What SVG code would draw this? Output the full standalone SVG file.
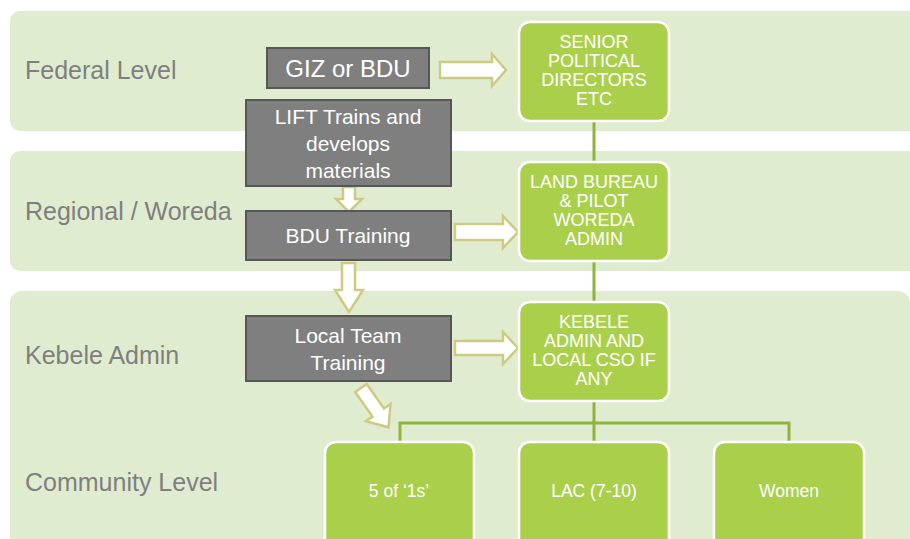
<svg xmlns="http://www.w3.org/2000/svg" width="910" height="539" viewBox="0 0 910 539">
<style>
.band{fill:#e0ecd0}
.lvl{font-family:"Liberation Sans",Arial,sans-serif;font-size:25px;fill:#7f7f7f}
.gbox{fill:#7f7f7f;stroke:#575757;stroke-width:2}
.gt{font-family:"Liberation Sans",Arial,sans-serif;font-size:21px;fill:#ffffff;text-anchor:middle}
.nbox{fill:#aad04b;stroke:#ffffff;stroke-width:2.5}
.nt{font-family:"Liberation Sans",Arial,sans-serif;font-size:18px;fill:#ffffff;text-anchor:middle}
.bt{font-family:"Liberation Sans",Arial,sans-serif;font-size:17.5px;fill:#ffffff;text-anchor:middle}
.arr{fill:#ffffff;stroke:#cfca82;stroke-width:2.5;stroke-linejoin:miter}
.con{stroke:#8db43c;stroke-width:3;fill:none}
</style>
<rect width="910" height="539" fill="#ffffff"/>
<g id="bands">
<rect class="band" x="10" y="11" width="940" height="120" rx="10"/>
<rect class="band" x="10" y="151" width="940" height="120" rx="10"/>
<rect class="band" x="10" y="291" width="900" height="270" rx="12"/>
<text class="lvl" x="25" y="79">Federal Level</text>
<text class="lvl" x="25" y="220">Regional / Woreda</text>
<text class="lvl" x="25" y="364">Kebele Admin</text>
<text class="lvl" x="25" y="491">Community Level</text>
</g>
<g id="connectors">
<line class="con" x1="594" y1="121" x2="594" y2="162"/>
<line class="con" x1="594" y1="261" x2="594" y2="302"/>
<line class="con" x1="594" y1="401" x2="594" y2="442"/>
<polyline class="con" points="400,442 400,423 789,423 789,442"/>
<polygon class="arr" points="440,62 492,62 492,54 506,70 492,86 492,78 440,78"/>
<polygon class="arr" points="455,224 503,224 503,216 518,232 503,248 503,240 455,240"/>
<polygon class="arr" points="455,341 503,341 503,332 518,348 503,364 503,355 455,355"/>
<polygon class="arr" points="343,187 355,187 355,199 362,199 349,212 336,199 343,199"/>
<polygon class="arr" points="342,263 355,263 355,290 363,290 349,312 335,290 342,290"/>
<polygon class="arr" transform="translate(361,388) rotate(55)" points="0,-7 30,-7 30,-15 48,0 30,15 30,7 0,7"/>
</g>
<g id="giz">
<rect class="gbox" x="267" y="48" width="162" height="40"/>
<text class="gt" x="348" y="77" style="font-size:24px">GIZ or BDU</text>
</g>
<g id="lift">
<rect class="gbox" x="246" y="100" width="205" height="86"/>
<text class="gt" x="348" y="124">LIFT Trains and</text>
<text class="gt" x="348" y="151">develops</text>
<text class="gt" x="348" y="178">materials</text>
</g>
<g id="bdu">
<rect class="gbox" x="246" y="211" width="205" height="49"/>
<text class="gt" x="348" y="243">BDU Training</text>
</g>
<g id="local">
<rect class="gbox" x="246" y="316" width="205" height="65"/>
<text class="gt" x="348" y="343">Local Team</text>
<text class="gt" x="348" y="370">Training</text>
</g>
<g id="senior">
<rect class="nbox" x="519" y="22" width="150" height="99" rx="11"/>
<text class="nt" x="594" y="48">SENIOR</text>
<text class="nt" x="594" y="67">POLITICAL</text>
<text class="nt" x="594" y="86">DIRECTORS</text>
<text class="nt" x="594" y="105">ETC</text>
</g>
<g id="land">
<rect class="nbox" x="519" y="162" width="150" height="99" rx="11"/>
<text class="nt" x="594" y="188">LAND BUREAU</text>
<text class="nt" x="594" y="207">&amp; PILOT</text>
<text class="nt" x="594" y="226">WOREDA</text>
<text class="nt" x="594" y="245">ADMIN</text>
</g>
<g id="kebele">
<rect class="nbox" x="519" y="302" width="150" height="99" rx="11"/>
<text class="nt" x="594" y="328">KEBELE</text>
<text class="nt" x="594" y="347">ADMIN AND</text>
<text class="nt" x="594" y="366">LOCAL CSO IF</text>
<text class="nt" x="594" y="385">ANY</text>
</g>
<g id="fiveones">
<rect class="nbox" x="325" y="442" width="149" height="110" rx="11"/>
<text class="bt" x="399" y="497">5 of ‘1s’</text>
</g>
<g id="lac">
<rect class="nbox" x="519" y="442" width="150" height="110" rx="11"/>
<text class="bt" x="594" y="497">LAC (7-10)</text>
</g>
<g id="women">
<rect class="nbox" x="714" y="442" width="150" height="110" rx="11"/>
<text class="bt" x="789" y="497">Women</text>
</g>
</svg>
